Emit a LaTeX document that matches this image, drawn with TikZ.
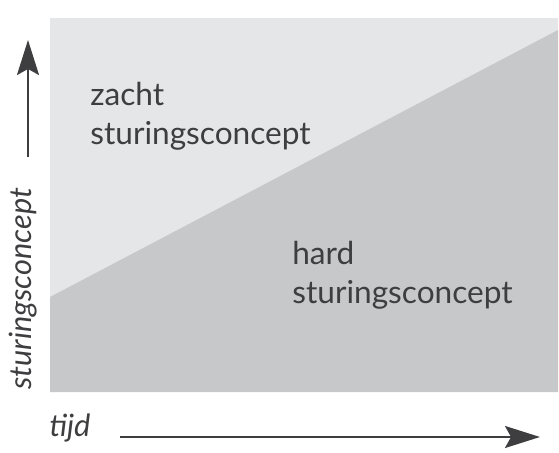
\documentclass[tikz,border=0pt]{standalone}
\usepackage{fontspec}
\setmainfont{Lato}
\usetikzlibrary{positioning,arrows.meta}
\definecolor{softgray}{RGB}{229,230,231}
\definecolor{hardgray}{RGB}{199,200,201}
\definecolor{ink}{RGB}{62,62,64}
\tikzset{
  region/.style={font=\fontsize{18}{22}\selectfont, text=ink, align=left, anchor=west, inner sep=0pt},
  axislbl/.style={font=\fontsize{17.5}{20}\selectfont\itshape, text=ink, inner sep=0pt},
  axisarrow/.style={-{Stealth[length=7mm,width=4.4mm,inset=1.2mm]}, line width=1.1pt, draw=ink}
}

\begin{document}
\begin{tikzpicture}[x=0.02cm,y=-0.02cm]
  \useasboundingbox (0,0) rectangle (559,453);
  % the two regions
  \fill[softgray] (50,18) rectangle (558,392);
  \fill[hardgray] (50,297) -- (558,30) -- (558,392) -- (50,392) -- cycle;
  \node[region] (soft) at (90,116) {zacht\\sturingsconcept};
  \node[region] (hard) at (292,275) {hard\\sturingsconcept};
  % axes
  \node[axislbl, rotate=90, anchor=west] (ylbl) at (23,390) {sturingsconcept};
  \coordinate (ybase) at (28,157);
  \coordinate (ytip) at (28,40);
  \draw[axisarrow] (ybase) -- (ytip);
  \node[axislbl] (xlbl) at (70,428) {tijd};
  \coordinate (xbase) at (120,437);
  \coordinate (xtip) at (540,437);
  \draw[axisarrow] (xbase) -- (xtip);
\end{tikzpicture}
\end{document}
